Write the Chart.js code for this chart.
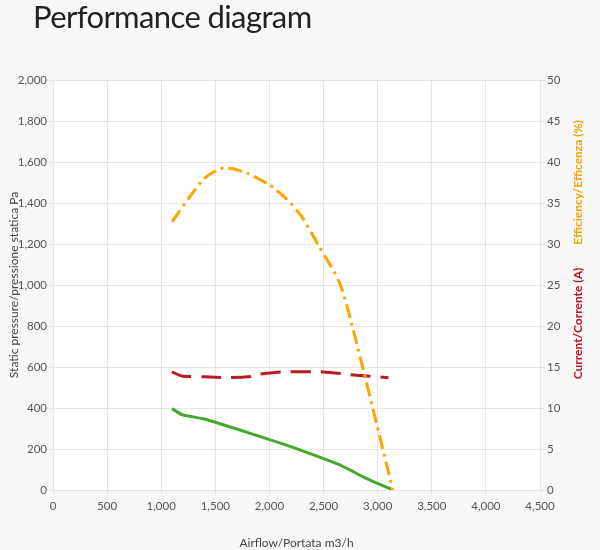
<!DOCTYPE html>
<html>
<head>
<meta charset="utf-8">
<script src="https://cdn.jsdelivr.net/npm/chart.js@4"></script>
<style>
  html, body { margin: 0; padding: 0; background: #f8f8f8; }
  #wrap { position: relative; width: 600px; height: 550px; }
  #title { position: absolute; left: 33px; top: -3px; font-family: Lato, sans-serif; font-size: 31px; color: #222; letter-spacing: -0.6px; white-space: nowrap; }
  canvas { position: absolute; left: 0; top: 0; }
</style>
</head>
<body>
<div id="wrap">
  <canvas id="c" width="600" height="550"></canvas>
  <div id="title">Performance diagram</div>
</div>
<script>
// Static pressure (Pa) vs airflow (m3/h)
const pressureFlow = [1100, 1190, 1400, 1800, 2150, 2650, 2900, 3140];
const pressureVals = [397, 368, 346, 280, 220, 122, 55, 0];
// Efficiency (%)
const effFlow = [1100, 1250, 1400, 1550, 1650, 1800, 2000, 2150, 2300, 2450, 2650, 2800, 3140];
const effVals = [32.7, 35.5, 38.0, 39.2, 39.2, 38.6, 37.2, 35.6, 33.3, 29.9, 25.2, 18.2, 0];
// Current (A)
const curFlow = [1100, 1190, 1400, 1600, 1800, 1900, 2100, 2500, 2800, 3100];
const curVals = [14.4, 13.9, 13.8, 13.7, 13.8, 14.1, 14.4, 14.4, 14.0, 13.7];

const xMax = 4500, xStep = 500;
const pMax = 2000, pStep = 200;
const rMax = 50, rStep = 5;

const xTitle = 'Airflow/Portata m3/h';
const leftTitle = 'Static pressure/pressione statica Pa';
const effTitle = 'Efficiency/Efficenza (%)';
const curTitle = 'Current/Corrente (A)';

const pts = (xs, ys) => xs.map((x, i) => ({x: x, y: ys[i]}));

const FONT = 'Lato, "Open Sans", sans-serif';
const tickFont = {family: FONT, size: 11.5};
const gridColor = '#e6e6e6';

const bgPlugin = {
  id: 'bg',
  beforeDraw(chart) {
    const {ctx, chartArea: a} = chart;
    ctx.save();
    ctx.fillStyle = '#ffffff';
    ctx.fillRect(a.left, a.top, a.right - a.left, a.bottom - a.top);
    ctx.restore();
  }
};

const rightTitles = {
  id: 'rightTitles',
  afterDraw(chart) {
    const {ctx} = chart;
    const sc = chart.scales.yr;
    const items = [
      {text: effTitle, color: '#f5a300', v: 37.5},
      {text: curTitle, color: '#c0141c', v: 20.3}
    ];
    ctx.save();
    ctx.font = 'bold 12px ' + FONT;
    ctx.textAlign = 'center';
    ctx.textBaseline = 'middle';
    items.forEach(it => {
      ctx.save();
      ctx.translate(sc.right - 22, sc.getPixelForValue(it.v));
      ctx.rotate(-Math.PI / 2);
      ctx.fillStyle = it.color;
      ctx.fillText(it.text, 0, 0);
      ctx.restore();
    });
    ctx.restore();
  }
};

new Chart(document.getElementById('c'), {
  type: 'line',
  data: {
    datasets: [
      {
        label: 'Efficiency',
        data: pts(effFlow, effVals),
        yAxisID: 'yr',
        borderColor: '#ffa500',
        borderWidth: 3,
        borderDash: [14, 5, 3, 5],
        pointRadius: 0,
        tension: 0.25,
        fill: false
      },
      {
        label: 'Current',
        data: pts(curFlow, curVals),
        yAxisID: 'yr',
        borderColor: '#bb1a1f',
        borderWidth: 3,
        borderDash: [20, 10],
        pointRadius: 0,
        tension: 0.2,
        fill: false
      },
      {
        label: 'Pressure',
        data: pts(pressureFlow, pressureVals),
        yAxisID: 'y',
        borderColor: '#44a82c',
        borderWidth: 3,
        pointRadius: 0,
        tension: 0.15,
        fill: false
      }
    ]
  },
  options: {
    responsive: false,
    animation: false,
    layout: {padding: {top: 80, left: 0, right: 0, bottom: 0}},
    plugins: {legend: {display: false}, tooltip: {enabled: false}},
    scales: {
      x: {
        type: 'linear',
        min: 0, max: xMax,
        ticks: {stepSize: xStep, color: '#555', font: tickFont, padding: 5, maxRotation: 0,
                callback: v => v.toLocaleString('en-US')},
        grid: {color: gridColor, tickLength: 4},
        border: {color: gridColor},
        title: {display: true, text: xTitle, color: '#444', font: {family: FONT, size: 12}, padding: {top: 0, bottom: 0}},
        afterFit(s) { s.height = 60; }
      },
      y: {
        position: 'left',
        min: 0, max: pMax,
        ticks: {stepSize: pStep, color: '#555', font: tickFont, padding: 2,
                callback: v => v.toLocaleString('en-US')},
        grid: {color: gridColor, tickLength: 4},
        border: {color: gridColor},
        title: {display: true, text: leftTitle, color: '#444', font: {family: FONT, size: 12}, padding: {top: 7, bottom: 0}},
        afterFit(s) { s.width = 53; }
      },
      yr: {
        position: 'right',
        min: 0, max: rMax,
        ticks: {stepSize: rStep, color: '#555', font: tickFont, padding: 2},
        grid: {color: gridColor, tickLength: 5, drawOnChartArea: false},
        border: {color: gridColor},
        afterFit(s) { s.width = 60; }
      }
    }
  },
  plugins: [bgPlugin, rightTitles]
});
</script>
</body>
</html>
